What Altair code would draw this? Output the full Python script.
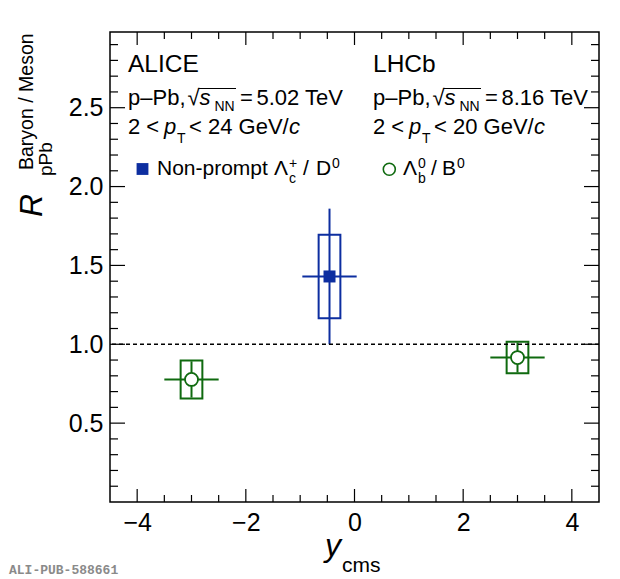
import altair as alt
import pandas as pd

# ---------------- data ----------------
experiment = ["ALICE", "LHCb", "LHCb"]
y_cms = [-0.46, -3.0, 3.0]
y_cms_low = [-0.96, -3.5, 2.5]
y_cms_high = [0.04, -2.5, 3.5]
ratio = [1.43, 0.777, 0.916]
stat_err = [0.43, 0.115, 0.095]
syst_err = [0.265, 0.12, 0.10]
syst_box_halfwidth = [0.2, 0.2, 0.2]
x_tick_labels = [-4, -2, 0, 2, 4]
y_tick_labels = [0.5, 1.0, 1.5, 2.0, 2.5]
reference_line = [1.0]

df = pd.DataFrame({
    "experiment": experiment,
    "yc": y_cms,
    "ylo": y_cms_low,
    "yhi": y_cms_high,
    "r": ratio,
})
df["stat_lo"] = [r - e for r, e in zip(ratio, stat_err)]
df["stat_hi"] = [r + e for r, e in zip(ratio, stat_err)]
df["sys_lo"] = [r - e for r, e in zip(ratio, syst_err)]
df["sys_hi"] = [r + e for r, e in zip(ratio, syst_err)]
df["bx_lo"] = [c - w for c, w in zip(y_cms, syst_box_halfwidth)]
df["bx_hi"] = [c + w for c, w in zip(y_cms, syst_box_halfwidth)]

x_major = [-4, -2, 0, 2, 4]
x_minor = [v / 2 for v in range(-8, 9) if v % 4 != 0]
y_major = y_tick_labels
y_minor = [v / 10 for v in range(1, 30) if v % 5 != 0]

# ---------------- style ----------------
FONT = "Liberation Sans"
BLUE = "#0d2ea0"
GREEN = "#0f6a0f"
W, H = 489, 470
OX, OY = 110, 32  # page position of plot origin

xs = alt.Scale(domain=[-4.5, 4.5], nice=False, zero=False)
ys = alt.Scale(domain=[0, 2.98], nice=False, zero=False)
xaxis = alt.Axis(values=x_tick_labels, title=None, ticks=False, tickSize=0, grid=False,
                 domain=False, labelFont=FONT, labelFontSize=25, labelColor="black",
                 labelPadding=8, labelFlush=False)
yaxis = alt.Axis(values=y_tick_labels, format=".1f", title=None, ticks=False, tickSize=0,
                 grid=False, domain=False, labelFont=FONT, labelFontSize=25,
                 labelColor="black", labelPadding=7, labelFlush=False)
exp_scale = alt.Scale(domain=["ALICE", "LHCb"], range=[BLUE, GREEN])
color = alt.Color("experiment:N", scale=exp_scale, legend=None)

base = alt.Chart(df)

boxes = base.mark_rect(fillOpacity=0, strokeWidth=2).encode(
    x=alt.X("bx_lo:Q", scale=xs, axis=xaxis), x2="bx_hi:Q",
    y=alt.Y("sys_lo:Q", scale=ys, axis=yaxis), y2="sys_hi:Q",
    stroke=alt.Stroke("experiment:N", scale=exp_scale, legend=None),
)
hbars = base.mark_rule(strokeWidth=2).encode(
    x=alt.X("ylo:Q", scale=xs, axis=xaxis), x2="yhi:Q",
    y=alt.Y("r:Q", scale=ys, axis=yaxis), color=color,
)
vbars = base.mark_rule(strokeWidth=2).encode(
    x=alt.X("yc:Q", scale=xs, axis=xaxis),
    y=alt.Y("stat_lo:Q", scale=ys, axis=yaxis), y2="stat_hi:Q", color=color,
)
alice_pts = base.transform_filter(alt.datum.experiment == "ALICE").mark_point(
    shape="square", filled=True, size=144, opacity=1, color=BLUE
).encode(x=alt.X("yc:Q", scale=xs, axis=xaxis), y=alt.Y("r:Q", scale=ys, axis=yaxis))
lhcb_pts = base.transform_filter(alt.datum.experiment == "LHCb").mark_point(
    shape="circle", filled=True, size=169, opacity=1, fill="white", stroke=GREEN, strokeWidth=1.8
).encode(x=alt.X("yc:Q", scale=xs, axis=xaxis), y=alt.Y("r:Q", scale=ys, axis=yaxis))

ref = alt.Chart(pd.DataFrame({"v": reference_line})).mark_rule(
    color="black", strokeDash=[4, 3], strokeWidth=1.6
).encode(y=alt.Y("v:Q", scale=ys, axis=yaxis))


def yticks(vals, length):
    d = alt.Chart(pd.DataFrame({"v": vals}))
    left = d.mark_rule(color="black", strokeWidth=1.2).encode(
        y=alt.Y("v:Q", scale=ys, axis=yaxis), x=alt.value(0), x2=alt.value(length))
    right = d.mark_rule(color="black", strokeWidth=1.2).encode(
        y=alt.Y("v:Q", scale=ys, axis=yaxis), x=alt.value(W - length), x2=alt.value(W))
    return [left, right]


def xticks(vals, length):
    d = alt.Chart(pd.DataFrame({"v": vals}))
    bottom = d.mark_rule(color="black", strokeWidth=1.2).encode(
        x=alt.X("v:Q", scale=xs, axis=xaxis), y=alt.value(H - length), y2=alt.value(H))
    top = d.mark_rule(color="black", strokeWidth=1.2).encode(
        x=alt.X("v:Q", scale=xs, axis=xaxis), y=alt.value(0), y2=alt.value(length))
    return [bottom, top]


def label(text, px, py, size, italic=False, angle=None, font=FONT, color_="black", weight=None):
    kw = dict(font=font, fontSize=size, color=color_, align="left", baseline="alphabetic")
    if italic:
        kw["fontStyle"] = "italic"
    if angle is not None:
        kw["angle"] = angle
    if weight is not None:
        kw["fontWeight"] = weight
    return alt.Chart(alt.InlineData(values=[{"a": 1}])).mark_text(**kw).encode(
        x=alt.value(px - OX), y=alt.value(py - OY), text=alt.value(text))


def hline(px1, px2, py, color_="black", width=1.2):
    return alt.Chart(alt.InlineData(values=[{"a": 1}])).mark_rule(
        color=color_, strokeWidth=width).encode(
        x=alt.value(px1 - OX), x2=alt.value(px2 - OX), y=alt.value(py - OY))


def marker(px, py, shape, **kw):
    return alt.Chart(alt.InlineData(values=[{"a": 1}])).mark_point(
        shape=shape, opacity=1, **kw).encode(x=alt.value(px - OX), y=alt.value(py - OY))


F = 22
texts = []
for x0, name, energy, ptrange in [(128, "ALICE", "5.02 TeV", "< 24 GeV/"),
                                  (373, "LHCb", "8.16 TeV", "< 20 GeV/")]:
    d = x0 - 128
    texts += [
        label(name, 128 + d, 72, 24.5),
        label("p–Pb,", 128 + d, 105, F),
        label("√", 187.5 + d, 105, F),
        hline(198.5 + d, 236 + d, 88.5),
        label("s", 199.5 + d, 105, F, italic=True),
        label("NN", 214.5 + d, 110.5, 14),
        label("=", 240 + d, 105, F),
        label(energy, 256.5 + d, 105, F),
        label("2 <", 128 + d, 134, F),
        label("p", 164 + d, 134, F, italic=True),
        label("T", 177 + d, 143, 14),
        label(ptrange, 189 + d, 134, F),
        label("c", 289 + d, 134, F, italic=True),
    ]

legend = [
    marker(142.5, 169, "square", filled=True, size=140, color=BLUE),
    label("Non-prompt", 157, 175, 21),
    label("Λ", 274, 175, 21),
    label("+", 289, 168, 14),
    label("c", 289, 183, 14),
    label("/", 303, 175, 21),
    label("D", 316, 175, 21),
    label("0", 332, 168, 14),
    marker(389.3, 169.3, "circle", filled=True, size=144, fill="white", stroke=GREEN, strokeWidth=1.6),
    label("Λ", 403, 175, 21),
    label("0", 418, 168, 14),
    label("b", 418, 183, 14),
    label("/", 431, 175, 21),
    label("B", 442, 175, 21),
    label("0", 457, 168, 14),
]

titles = [
    label("R", 42, 217, 32, italic=True, angle=270),
    label("pPb", 52, 176, 19, angle=270),
    label("Baryon / Meson", 33, 170, 19.5, angle=270),
    label("y", 325, 556, 32, italic=True),
    label("cms", 342, 572, 21),
    label("ALI-PUB-588661", 9, 574, 13, font="Liberation Mono", color_="#8a8a8a", weight="bold"),
]

layers = [boxes, hbars, vbars, ref, alice_pts, lhcb_pts]
layers += yticks(y_major, 15) + yticks(y_minor, 8) + xticks(x_major, 13) + xticks(x_minor, 7)
layers += texts + legend + titles

chart = alt.layer(*layers).properties(
    width=W, height=H, autosize="none",
    padding={"left": 102, "top": 24, "right": 10, "bottom": 75},
).configure_view(stroke="black", strokeWidth=1.5)

chart.save("out.html", embed_options={"renderer": "svg", "actions": False})
